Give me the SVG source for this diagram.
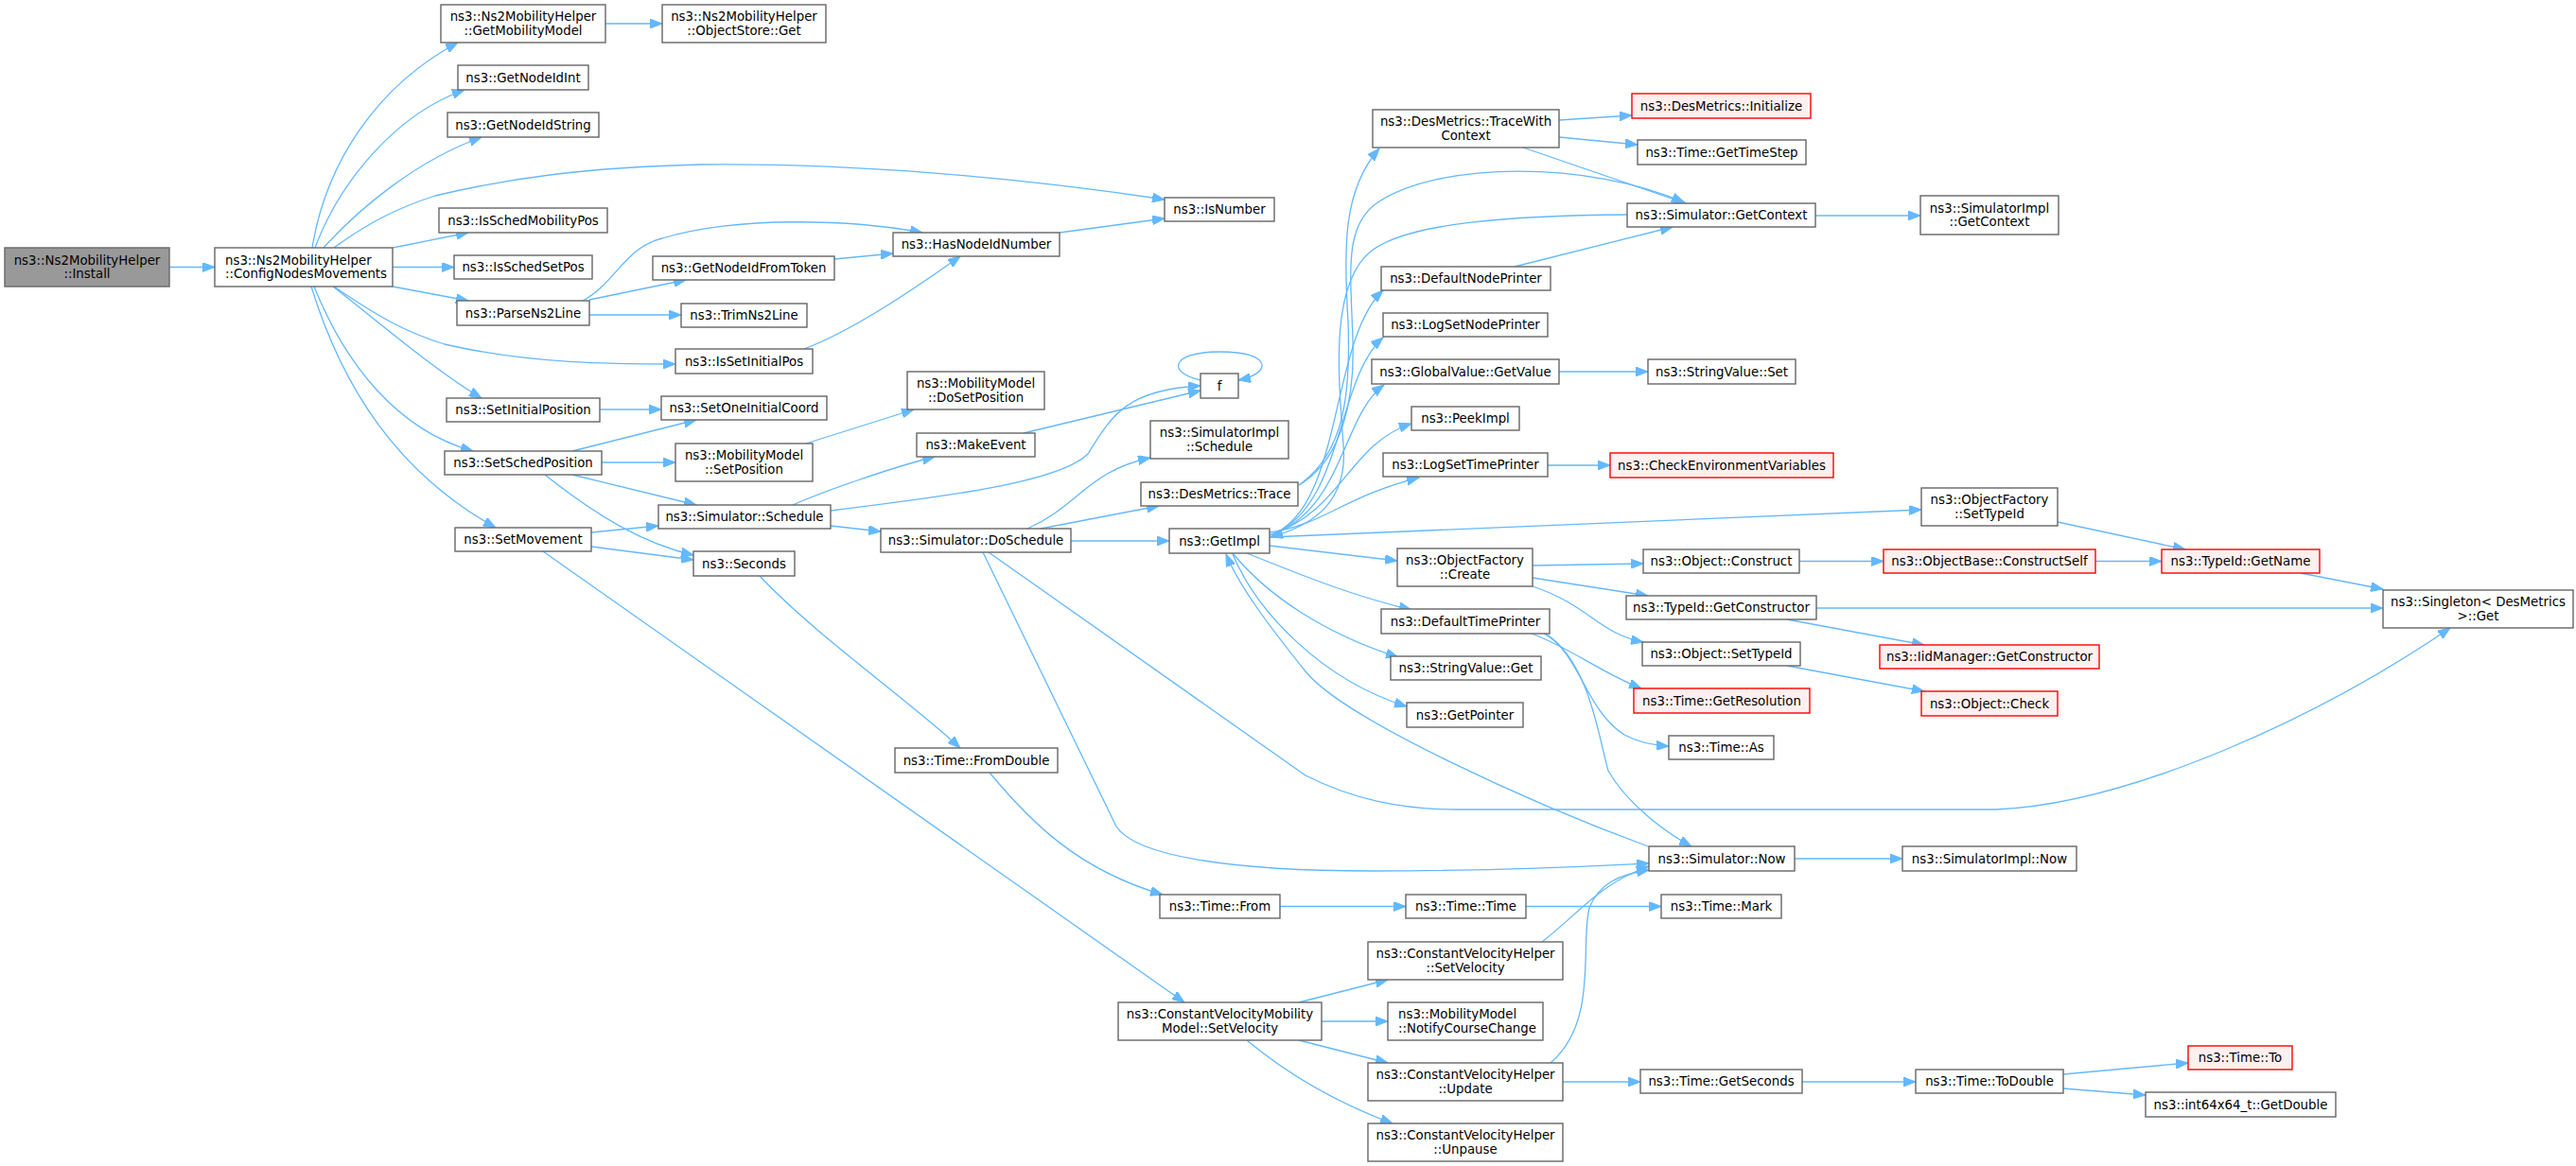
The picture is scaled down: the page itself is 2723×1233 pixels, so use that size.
<svg xmlns="http://www.w3.org/2000/svg" width="2723" height="1233" viewBox="0 0 2723 1233">
<style>
.nd rect{fill:#ffffff;stroke:#666666;stroke-width:1.4}
.rd rect{fill:#fff0f0;stroke:#ff0000;stroke-width:1.4}
.rt rect{fill:#999999;stroke:#666666;stroke-width:1.4}
text{font-family:"DejaVu Sans","Liberation Sans",sans-serif;font-size:13.33px;fill:#000000}
.c{text-anchor:middle}
.l{text-anchor:start}
#edges path{fill:none;stroke:#63b8ff;stroke-width:1.3;marker-end:url(#ah)}
</style>
<defs>
<marker id="ah" markerWidth="14" markerHeight="10" refX="13" refY="5" orient="auto" markerUnits="userSpaceOnUse">
<path d="M0,0 L13,5 L0,10 z" fill="#63b8ff" stroke="#63b8ff" stroke-width="1"/>
</marker>
</defs>
<rect x="0" y="0" width="2723" height="1233" fill="#ffffff"/>
<g id="edges">
<path d="M179,282.5 L227,282.5"/>
<path d="M330,262 C345,170 400,90 484,45"/>
<path d="M333,262 C360,190 420,120 491,95"/>
<path d="M342,262 C380,220 440,170 509,145"/>
<path d="M353,262 C390,235 420,220 460,207 C540,188 620,177 740,174 C900,172 1080,188 1231,211"/>
<path d="M415,262 L495,246"/>
<path d="M415,282.5 L480,282.5"/>
<path d="M415,303 L495,318"/>
<path d="M353,303 C400,335 430,352 470,364 C560,385 650,385 714,385"/>
<path d="M352,303 C400,340 460,392 509,421"/>
<path d="M332,303 C365,385 420,455 500,477"/>
<path d="M329,303 C362,410 420,500 524,558"/>
<path d="M640,25 L700,25"/>
<path d="M616,318 C650,300 660,262 700,252 C780,228 900,232 975,246"/>
<path d="M623,317 L725,296"/>
<path d="M623,333 L720,333"/>
<path d="M882,274 L944,268"/>
<path d="M850,369 C900,350 960,310 1015,271"/>
<path d="M1120,246 L1231,231"/>
<path d="M634,433 L699,433"/>
<path d="M605,477 L736,444"/>
<path d="M636,489 L714,489"/>
<path d="M605,502 L736,534"/>
<path d="M576,502 C630,545 680,575 733,587"/>
<path d="M625,563 L696,556"/>
<path d="M625,578 L733,592"/>
<path d="M574,583 L1252,1060"/>
<path d="M852,469 L966,433"/>
<path d="M838,534 C870,520 940,495 988,483"/>
<path d="M878,540 C1000,525 1120,510 1150,480 C1175,440 1190,412 1269,408"/>
<path d="M878,556 L931,562"/>
<path d="M1082,458 L1269,413"/>
<path d="M1269,402 C1235,395 1235,372 1290,372 C1345,372 1345,395 1309,402"/>
<path d="M803,609 C860,670 960,740 1015,791"/>
<path d="M1086,559 C1140,535 1150,498 1216,484"/>
<path d="M1100,559 L1225,535"/>
<path d="M1132,572 L1236,572"/>
<path d="M1039,584 L1180,874 C1200,905 1300,921 1450,921 C1600,921 1700,915 1743,913"/>
<path d="M1045,584 L1380,820 C1430,845 1480,856 1540,856 L2110,856 C2250,850 2450,760 2590,664"/>
<path d="M1342,566 C1420,540 1405,360 1462,307"/>
<path d="M1342,566 C1420,540 1412,400 1462,357"/>
<path d="M1342,566 C1420,540 1418,440 1463,407"/>
<path d="M1342,566 C1420,540 1425,470 1492,448"/>
<path d="M1342,563 C1400,555 1420,525 1500,505"/>
<path d="M1342,568 L2031,539"/>
<path d="M1342,577 L1477,593"/>
<path d="M1318,585 C1380,610 1430,630 1492,645"/>
<path d="M1303,585 C1340,630 1400,670 1478,695"/>
<path d="M1303,586 C1330,650 1400,720 1487,747"/>
<path d="M1742,895 C1620,850 1420,760 1380,710 C1340,660 1310,620 1296,586"/>
<path d="M1373,513 C1420,480 1428,420 1425,340 C1420,260 1420,200 1458,157"/>
<path d="M1373,513 C1420,485 1432,420 1430,360 C1428,290 1420,240 1455,215 C1520,170 1680,170 1780,214"/>
<path d="M1720,227 C1600,228 1490,235 1450,265 C1405,300 1415,400 1420,470 C1425,530 1390,555 1343,568"/>
<path d="M1648,127 L1725,122"/>
<path d="M1648,145 L1731,153"/>
<path d="M1610,156 L1782,215"/>
<path d="M1919,228 L2030,228"/>
<path d="M1601,282 L1768,240"/>
<path d="M1648,393 L1742,393"/>
<path d="M1636,492 L1702,492"/>
<path d="M2175,552 L2310,581"/>
<path d="M1620,598 L1737,596"/>
<path d="M1620,611 L1742,630"/>
<path d="M1620,620 C1680,640 1690,670 1737,679"/>
<path d="M1902,593.5 L1991,593.5"/>
<path d="M2215,593.5 L2285,593.5"/>
<path d="M2432,606 L2519,623"/>
<path d="M1920,643 L2519,643"/>
<path d="M1889,655 L2034,682"/>
<path d="M1889,704 L2034,731"/>
<path d="M1619,670 C1660,685 1690,710 1735,728"/>
<path d="M1632,670 C1670,690 1675,750 1717,777 C1730,784 1745,788 1764,789"/>
<path d="M1634,670 C1680,700 1690,780 1700,815 C1720,850 1760,880 1788,895"/>
<path d="M1897,908 L2011,908"/>
<path d="M1046,817 C1090,870 1140,920 1229,946"/>
<path d="M1353,958.5 L1486,958.5"/>
<path d="M1613,958.5 L1756,958.5"/>
<path d="M1373,1060 L1467,1036"/>
<path d="M1397,1080 L1467,1080"/>
<path d="M1373,1100 L1467,1124"/>
<path d="M1318,1100 C1360,1135 1410,1165 1472,1188"/>
<path d="M1630,996 C1670,965 1690,935 1743,916"/>
<path d="M1639,1124 C1690,1080 1670,1000 1680,960 C1690,935 1710,925 1743,920"/>
<path d="M1652,1144 L1734,1144"/>
<path d="M1905,1144 L2025,1144"/>
<path d="M2181,1136 L2313,1124"/>
<path d="M2181,1151 L2268,1158"/>
</g>
<g id="n_install" class="rt"><rect x="5" y="262" width="174" height="41"/><text class="c" x="92" y="279.5">ns3::Ns2MobilityHelper</text><text class="c" x="92" y="294">::Install</text></g>
<g id="n_config" class="nd"><rect x="227" y="262" width="188" height="41"/><text class="l" x="238" y="279.5">ns3::Ns2MobilityHelper</text><text class="l" x="238" y="294">::ConfigNodesMovements</text></g>
<g id="n_getmob" class="nd"><rect x="466" y="5" width="174" height="40"/><text class="c" x="553" y="22">ns3::Ns2MobilityHelper</text><text class="c" x="553" y="36.5">::GetMobilityModel</text></g>
<g id="n_objstore" class="nd"><rect x="700" y="5" width="173" height="40"/><text class="c" x="786.5" y="22">ns3::Ns2MobilityHelper</text><text class="c" x="786.5" y="36.5">::ObjectStore::Get</text></g>
<g id="n_getnodeidint" class="nd"><rect x="484" y="69" width="138" height="26"/><text class="c" x="553" y="86.5">ns3::GetNodeIdInt</text></g>
<g id="n_getnodeidstring" class="nd"><rect x="473" y="119" width="160" height="26"/><text class="c" x="553" y="136.5">ns3::GetNodeIdString</text></g>
<g id="n_isschedmob" class="nd"><rect x="464" y="220" width="178" height="26"/><text class="c" x="553" y="237.5">ns3::IsSchedMobilityPos</text></g>
<g id="n_isschedset" class="nd"><rect x="480" y="270" width="146" height="25"/><text class="c" x="553" y="287">ns3::IsSchedSetPos</text></g>
<g id="n_parse" class="nd"><rect x="483" y="318" width="140" height="26"/><text class="c" x="553" y="335.5">ns3::ParseNs2Line</text></g>
<g id="n_isnumber" class="nd"><rect x="1231" y="209" width="116" height="25"/><text class="c" x="1289" y="226">ns3::IsNumber</text></g>
<g id="n_hasnode" class="nd"><rect x="944" y="246" width="176" height="25"/><text class="c" x="1032" y="263">ns3::HasNodeIdNumber</text></g>
<g id="n_fromtoken" class="nd"><rect x="690" y="271" width="192" height="25"/><text class="c" x="786" y="288">ns3::GetNodeIdFromToken</text></g>
<g id="n_trim" class="nd"><rect x="720" y="321" width="133" height="25"/><text class="c" x="786.5" y="338">ns3::TrimNs2Line</text></g>
<g id="n_issetinit" class="nd"><rect x="714" y="369" width="145" height="26"/><text class="c" x="786.5" y="386.5">ns3::IsSetInitialPos</text></g>
<g id="n_f" class="nd"><rect x="1269" y="395" width="40" height="26"/><text class="c" x="1289" y="412.5">f</text></g>
<g id="n_dosetpos" class="nd"><rect x="959" y="393" width="145" height="40"/><text class="c" x="1031.5" y="410">ns3::MobilityModel</text><text class="c" x="1031.5" y="424.5">::DoSetPosition</text></g>
<g id="n_setinitpos" class="nd"><rect x="472" y="421" width="162" height="25"/><text class="c" x="553" y="438">ns3::SetInitialPosition</text></g>
<g id="n_setsched" class="nd"><rect x="470" y="477" width="166" height="25"/><text class="c" x="553" y="494">ns3::SetSchedPosition</text></g>
<g id="n_setmove" class="nd"><rect x="481" y="558" width="144" height="25"/><text class="c" x="553" y="575">ns3::SetMovement</text></g>
<g id="n_setone" class="nd"><rect x="699" y="419" width="175" height="25"/><text class="c" x="786.5" y="436">ns3::SetOneInitialCoord</text></g>
<g id="n_setpos" class="nd"><rect x="714" y="469" width="145" height="40"/><text class="c" x="786.5" y="486">ns3::MobilityModel</text><text class="c" x="786.5" y="500.5">::SetPosition</text></g>
<g id="n_simsched" class="nd"><rect x="696" y="534" width="182" height="25"/><text class="c" x="787" y="551">ns3::Simulator::Schedule</text></g>
<g id="n_seconds" class="nd"><rect x="733" y="583" width="107" height="26"/><text class="c" x="786.5" y="600.5">ns3::Seconds</text></g>
<g id="n_makeevent" class="nd"><rect x="969" y="458" width="125" height="25"/><text class="c" x="1031.5" y="475">ns3::MakeEvent</text></g>
<g id="n_dosched" class="nd"><rect x="931" y="559" width="201" height="25"/><text class="c" x="1031.5" y="576">ns3::Simulator::DoSchedule</text></g>
<g id="n_implsched" class="nd"><rect x="1216" y="445" width="146" height="40"/><text class="c" x="1289" y="462">ns3::SimulatorImpl</text><text class="c" x="1289" y="476.5">::Schedule</text></g>
<g id="n_trace" class="nd"><rect x="1206" y="510" width="166" height="25"/><text class="c" x="1289" y="527">ns3::DesMetrics::Trace</text></g>
<g id="n_getimpl" class="nd"><rect x="1236" y="559" width="106" height="26"/><text class="c" x="1289" y="576.5">ns3::GetImpl</text></g>
<g id="n_fromdouble" class="nd"><rect x="946" y="791" width="172" height="26"/><text class="c" x="1032" y="808.5">ns3::Time::FromDouble</text></g>
<g id="n_tracectx" class="nd"><rect x="1451" y="116" width="197" height="40"/><text class="c" x="1549.5" y="133">ns3::DesMetrics::TraceWith</text><text class="c" x="1549.5" y="147.5">Context</text></g>
<g id="n_init" class="rd"><rect x="1725" y="99" width="189" height="26"/><text class="c" x="1819.5" y="116.5">ns3::DesMetrics::Initialize</text></g>
<g id="n_timestep" class="nd"><rect x="1731" y="148" width="178" height="26"/><text class="c" x="1820" y="165.5">ns3::Time::GetTimeStep</text></g>
<g id="n_getctx" class="nd"><rect x="1720" y="215" width="199" height="25"/><text class="c" x="1819.5" y="232">ns3::Simulator::GetContext</text></g>
<g id="n_implctx" class="nd"><rect x="2030" y="207" width="146" height="41"/><text class="c" x="2103" y="224.5">ns3::SimulatorImpl</text><text class="c" x="2103" y="239">::GetContext</text></g>
<g id="n_defnode" class="nd"><rect x="1460" y="282" width="179" height="25"/><text class="c" x="1549.5" y="299">ns3::DefaultNodePrinter</text></g>
<g id="n_lognode" class="nd"><rect x="1462" y="331" width="174" height="25"/><text class="c" x="1549" y="348">ns3::LogSetNodePrinter</text></g>
<g id="n_getvalue" class="nd"><rect x="1450" y="380" width="198" height="26"/><text class="c" x="1549" y="397.5">ns3::GlobalValue::GetValue</text></g>
<g id="n_strset" class="nd"><rect x="1742" y="380" width="156" height="26"/><text class="c" x="1820" y="397.5">ns3::StringValue::Set</text></g>
<g id="n_peek" class="nd"><rect x="1492" y="430" width="114" height="25"/><text class="c" x="1549" y="447">ns3::PeekImpl</text></g>
<g id="n_logtime" class="nd"><rect x="1462" y="479" width="174" height="25"/><text class="c" x="1549" y="496">ns3::LogSetTimePrinter</text></g>
<g id="n_checkenv" class="rd"><rect x="1702" y="479" width="236" height="26"/><text class="c" x="1820" y="496.5">ns3::CheckEnvironmentVariables</text></g>
<g id="n_ofsettype" class="nd"><rect x="2031" y="516" width="144" height="40"/><text class="c" x="2103" y="533">ns3::ObjectFactory</text><text class="c" x="2103" y="547.5">::SetTypeId</text></g>
<g id="n_ofcreate" class="nd"><rect x="1477" y="580" width="143" height="40"/><text class="c" x="1548.5" y="597">ns3::ObjectFactory</text><text class="c" x="1548.5" y="611.5">::Create</text></g>
<g id="n_construct" class="nd"><rect x="1737" y="581" width="165" height="25"/><text class="c" x="1819.5" y="598">ns3::Object::Construct</text></g>
<g id="n_constructself" class="rd"><rect x="1991" y="581" width="224" height="25"/><text class="c" x="2103" y="598">ns3::ObjectBase::ConstructSelf</text></g>
<g id="n_getname" class="rd"><rect x="2285" y="581" width="167" height="25"/><text class="c" x="2368.5" y="598">ns3::TypeId::GetName</text></g>
<g id="n_getctor" class="nd"><rect x="1719" y="630" width="201" height="25"/><text class="c" x="1819.5" y="647">ns3::TypeId::GetConstructor</text></g>
<g id="n_singleton" class="nd"><rect x="2519" y="624" width="201" height="40"/><text class="c" x="2619.5" y="641">ns3::Singleton&lt; DesMetrics</text><text class="c" x="2619.5" y="655.5"> &gt;::Get</text></g>
<g id="n_iidctor" class="rd"><rect x="1987" y="682" width="232" height="25"/><text class="c" x="2103" y="699">ns3::IidManager::GetConstructor</text></g>
<g id="n_objsettype" class="nd"><rect x="1736" y="679" width="167" height="25"/><text class="c" x="1819.5" y="696">ns3::Object::SetTypeId</text></g>
<g id="n_deftime" class="nd"><rect x="1460" y="644" width="178" height="26"/><text class="c" x="1549" y="661.5">ns3::DefaultTimePrinter</text></g>
<g id="n_strget" class="nd"><rect x="1470" y="694" width="159" height="25"/><text class="c" x="1549.5" y="711">ns3::StringValue::Get</text></g>
<g id="n_getpointer" class="nd"><rect x="1487" y="743" width="123" height="26"/><text class="c" x="1548.5" y="760.5">ns3::GetPointer</text></g>
<g id="n_resolution" class="rd"><rect x="1727" y="728" width="186" height="26"/><text class="c" x="1820" y="745.5">ns3::Time::GetResolution</text></g>
<g id="n_check" class="rd"><rect x="2031" y="731" width="144" height="26"/><text class="c" x="2103" y="748.5">ns3::Object::Check</text></g>
<g id="n_as" class="nd"><rect x="1764" y="778" width="111" height="25"/><text class="c" x="1819.5" y="795">ns3::Time::As</text></g>
<g id="n_now" class="nd"><rect x="1743" y="895" width="154" height="26"/><text class="c" x="1820" y="912.5">ns3::Simulator::Now</text></g>
<g id="n_implnow" class="nd"><rect x="2011" y="895" width="184" height="26"/><text class="c" x="2103" y="912.5">ns3::SimulatorImpl::Now</text></g>
<g id="n_from" class="nd"><rect x="1226" y="946" width="127" height="25"/><text class="c" x="1289.5" y="963">ns3::Time::From</text></g>
<g id="n_time" class="nd"><rect x="1486" y="946" width="127" height="25"/><text class="c" x="1549.5" y="963">ns3::Time::Time</text></g>
<g id="n_mark" class="nd"><rect x="1756" y="946" width="127" height="25"/><text class="c" x="1819.5" y="963">ns3::Time::Mark</text></g>
<g id="n_cvmmset" class="nd"><rect x="1182" y="1060" width="215" height="40"/><text class="c" x="1289.5" y="1077">ns3::ConstantVelocityMobility</text><text class="c" x="1289.5" y="1091.5">Model::SetVelocity</text></g>
<g id="n_cvhset" class="nd"><rect x="1446" y="996" width="206" height="40"/><text class="c" x="1549" y="1013">ns3::ConstantVelocityHelper</text><text class="c" x="1549" y="1027.5">::SetVelocity</text></g>
<g id="n_notify" class="nd"><rect x="1467" y="1060" width="164" height="40"/><text class="l" x="1478" y="1077">ns3::MobilityModel</text><text class="l" x="1478" y="1091.5">::NotifyCourseChange</text></g>
<g id="n_update" class="nd"><rect x="1446" y="1124" width="206" height="40"/><text class="c" x="1549" y="1141">ns3::ConstantVelocityHelper</text><text class="c" x="1549" y="1155.5">::Update</text></g>
<g id="n_unpause" class="nd"><rect x="1446" y="1188" width="206" height="40"/><text class="c" x="1549" y="1205">ns3::ConstantVelocityHelper</text><text class="c" x="1549" y="1219.5">::Unpause</text></g>
<g id="n_getseconds" class="nd"><rect x="1734" y="1131" width="171" height="25"/><text class="c" x="1819.5" y="1148">ns3::Time::GetSeconds</text></g>
<g id="n_todouble" class="nd"><rect x="2025" y="1131" width="156" height="25"/><text class="c" x="2103" y="1148">ns3::Time::ToDouble</text></g>
<g id="n_to" class="rd"><rect x="2313" y="1106" width="110" height="25"/><text class="c" x="2368" y="1123">ns3::Time::To</text></g>
<g id="n_getdouble" class="nd"><rect x="2268" y="1155" width="201" height="26"/><text class="c" x="2368.5" y="1172.5">ns3::int64x64_t::GetDouble</text></g>
</svg>
